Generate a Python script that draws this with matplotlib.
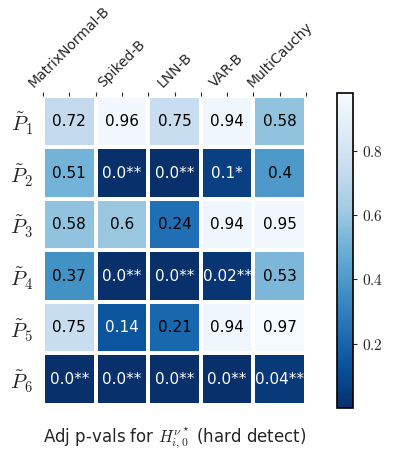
import numpy as np
import matplotlib
matplotlib.use("Agg")
import matplotlib.pyplot as plt
from matplotlib.ticker import FuncFormatter

plt.rcParams['font.family'] = ['DejaVu Sans']
plt.rcParams['mathtext.fontset'] = 'cm'
plt.rcParams['text.color'] = '#262626'
plt.rcParams['xtick.color'] = '#262626'
plt.rcParams['ytick.color'] = '#262626'
plt.rcParams['axes.labelcolor'] = '#262626'

models = ['MatrixNormal-B', 'Spiked-B', 'LNN-B', 'VAR-B', 'MultiCauchy']
rows = [r'$\tilde{P}_1$', r'$\tilde{P}_2$', r'$\tilde{P}_3$',
        r'$\tilde{P}_4$', r'$\tilde{P}_5$', r'$\tilde{P}_6$']

pvals = np.array([
    [0.72, 0.96, 0.75, 0.94, 0.58],
    [0.51, 0.001, 0.001, 0.06, 0.40],
    [0.58, 0.60, 0.24, 0.94, 0.95],
    [0.37, 0.001, 0.001, 0.02, 0.53],
    [0.75, 0.14, 0.21, 0.94, 0.97],
    [0.001, 0.001, 0.001, 0.001, 0.04],
])

labels = [
    ['0.72', '0.96', '0.75', '0.94', '0.58'],
    ['0.51', '0.0**', '0.0**', '0.1*', '0.4'],
    ['0.58', '0.6', '0.24', '0.94', '0.95'],
    ['0.37', '0.0**', '0.0**', '0.02**', '0.53'],
    ['0.75', '0.14', '0.21', '0.94', '0.97'],
    ['0.0**', '0.0**', '0.0**', '0.0**', '0.04**'],
]

fig = plt.figure(figsize=(3.98, 4.65), dpi=100)
ax = fig.add_axes([0.108, 0.129, 0.661, 0.665])
cax = fig.add_axes([0.846, 0.123, 0.040, 0.677])

mesh = ax.pcolormesh(pvals, cmap='Blues_r', vmin=0, vmax=0.98,
                     edgecolors='white', linewidth=1.6)
ax.set_xlim(0, len(models))
ax.set_ylim(len(rows), 0)
for s in ax.spines.values():
    s.set_visible(False)

for i in range(len(rows)):
    for j in range(len(models)):
        c = 'white' if pvals[i, j] < 0.18 else 'black'
        ax.text(j + 0.5, i + 0.5, labels[i][j], ha='center', va='center',
                color=c, fontsize=11)

ax.xaxis.tick_top()
ax.set_xticks(np.arange(len(models)) + 0.5)
ax.set_xticks(np.arange(len(models) + 1), minor=True)
ax.set_xticklabels(models, rotation=45, ha='center', fontsize=10)
ax.tick_params(axis='x', which='both', length=3, width=0.8, pad=1)
ax.set_yticks(np.arange(len(rows)) + 0.5)
ax.set_yticklabels(rows, fontsize=15)
ax.tick_params(axis='y', length=0, pad=7)
ax.set_xlabel(r'Adj p-vals for $H^{\nu^\star}_{i,0}$ (hard detect)',
              fontsize=12, labelpad=14)

cb = fig.colorbar(mesh, cax=cax)
cb.set_ticks([0.2, 0.4, 0.6, 0.8])
cb.ax.yaxis.set_major_formatter(FuncFormatter(lambda v, p: r'$%.1f$' % v))
cb.ax.tick_params(labelsize=11, length=3)
cb.outline.set_linewidth(1.2)

fig.savefig('out.png', dpi=100)
